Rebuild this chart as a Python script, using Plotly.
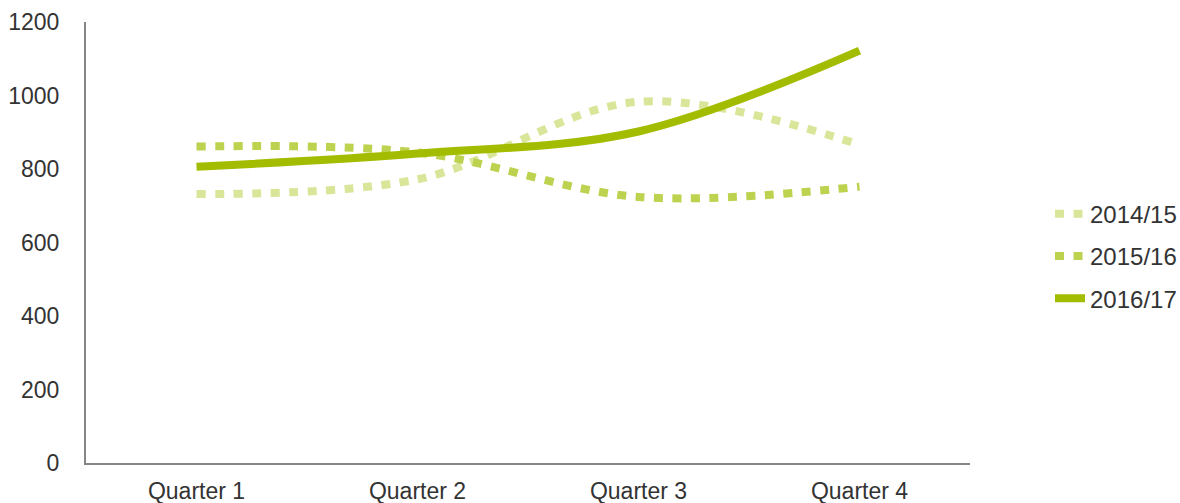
import plotly.graph_objects as go

categories = ["Quarter 1", "Quarter 2", "Quarter 3", "Quarter 4"]
series_names = ["2014/15", "2015/16", "2016/17"]
values_2014 = [732, 772, 983, 866]
values_2015 = [861, 845, 724, 752]
values_2016 = [806, 842, 902, 1122]
y_ticks = [0, 200, 400, 600, 800, 1000, 1200]

colors = ["#d9e699", "#bdd24f", "#a3bc00"]
dashes = ["9px,9.5px", "9px,9.5px", "solid"]
all_values = [values_2014, values_2015, values_2016]

fig = go.Figure()
for i, (name, vals) in enumerate(zip(series_names, all_values)):
    fig.add_trace(go.Scatter(
        x=categories, y=vals, name=name, mode="lines",
        line=dict(color=colors[i], width=8, dash=dashes[i], shape="spline", smoothing=1.0),
        legendgroup=name,
    ))

font = dict(family="Liberation Sans, Arial, sans-serif", size=23, color="#333333")
legend_font = dict(family="Liberation Sans, Arial, sans-serif", size=24, color="#333333")
fig.update_layout(
    width=1180, height=503,
    margin=dict(l=86, r=210, t=22, b=40, autoexpand=False),
    paper_bgcolor="white", plot_bgcolor="white",
    font=font,
    showlegend=True,
    legend=dict(x=1.0905, y=0.469, xanchor="left", yanchor="middle",
                traceorder="grouped", tracegroupgap=8, font=legend_font,
                bgcolor="rgba(0,0,0,0)"),
)
fig.update_xaxes(
    type="category", range=[-0.5, 3.5], showgrid=False, zeroline=False,
    showline=True, linecolor="#868686", linewidth=2, ticks="",
    ticklabelstandoff=6, tickfont=font, automargin=False,
)
fig.update_yaxes(
    range=[0, 1200], tickvals=y_ticks, showgrid=False, zeroline=False,
    showline=True, linecolor="#868686", linewidth=2, ticks="",
    ticklabelstandoff=20, tickfont=font, automargin=False,
)
fig.write_html("out.html")
